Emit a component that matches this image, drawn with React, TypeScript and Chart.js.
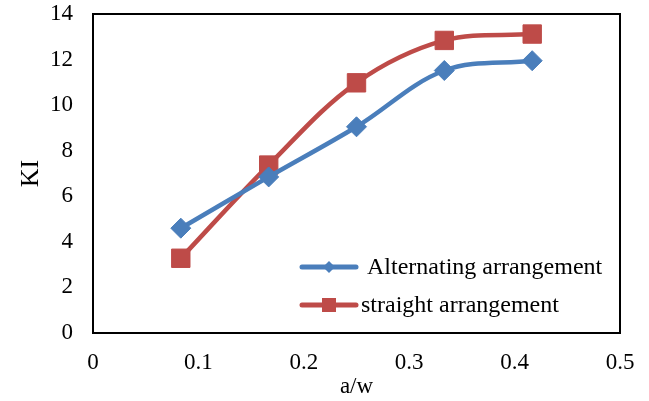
import React, { useEffect, useRef } from "react";
import { Chart, registerables } from "chart.js";

Chart.register(...registerables);

const xValues = [0.0833, 0.1667, 0.25, 0.3333, 0.4167];
const alternating = [4.6, 6.85, 9.05, 11.52, 11.95];
const straight = [3.28, 7.37, 10.98, 12.84, 13.12];
const seriesNames = ["Alternating arrangement", "straight arrangement"];
const BLUE = "#4A7EBB";
const RED = "#BE4B48";
const FONT = "'Liberation Serif', 'Times New Roman', serif";

const frameAndLegend = {
  id: "frameAndLegend",
  afterDraw(chart: any) {
    const { ctx, chartArea } = chart;
    ctx.save();
    ctx.strokeStyle = "#000";
    ctx.lineWidth = 2;
    ctx.strokeRect(chartArea.left, chartArea.top, chartArea.right - chartArea.left, chartArea.bottom - chartArea.top);
    const items = [
      { name: seriesNames[0], color: BLUE, y: 267, textX: 367, shape: "diamond" },
      { name: seriesNames[1], color: RED, y: 305, textX: 361, shape: "square" },
    ];
    ctx.font = `24px ${FONT}`;
    ctx.textBaseline = "middle";
    ctx.textAlign = "left";
    for (const it of items) {
      ctx.strokeStyle = it.color;
      ctx.lineWidth = 5;
      ctx.lineCap = "round";
      ctx.beginPath();
      ctx.moveTo(302, it.y);
      ctx.lineTo(356, it.y);
      ctx.stroke();
      ctx.fillStyle = it.color;
      if (it.shape === "diamond") {
        ctx.beginPath();
        ctx.moveTo(329, it.y - 6);
        ctx.lineTo(335, it.y);
        ctx.lineTo(329, it.y + 6);
        ctx.lineTo(323, it.y);
        ctx.closePath();
        ctx.fill();
      } else {
        ctx.fillRect(322, it.y - 7, 14, 14);
      }
      ctx.fillStyle = "#000";
      ctx.fillText(it.name, it.textX, it.y + 1);
    }
    ctx.restore();
  },
};

export default function App() {
  const ref = useRef<HTMLCanvasElement | null>(null);
  useEffect(() => {
    document.body.style.margin = "0";
    const canvas = ref.current!;
    const chart = new Chart(canvas, {
      type: "scatter",
      data: {
        datasets: [
          {
            label: seriesNames[0],
            data: xValues.map((x, i) => ({ x, y: alternating[i] })),
            showLine: true,
            borderColor: BLUE,
            backgroundColor: BLUE,
            borderWidth: 4.5,
            tension: 0.35,
            pointStyle: "rectRot",
            pointRadius: 10,
            pointBorderWidth: 1,
            pointBackgroundColor: BLUE,
            pointBorderColor: BLUE,
          },
          {
            label: seriesNames[1],
            data: xValues.map((x, i) => ({ x, y: straight[i] })),
            showLine: true,
            borderColor: RED,
            backgroundColor: RED,
            borderWidth: 4.5,
            tension: 0.35,
            pointStyle: "rect",
            pointRadius: 13,
            pointBorderWidth: 1,
            pointBackgroundColor: RED,
            pointBorderColor: RED,
          },
        ],
      },
      options: {
        animation: false,
        responsive: false,
        devicePixelRatio: 1,
        layout: { padding: { top: 13, right: 29, left: 0, bottom: 0 } },
        plugins: { legend: { display: false }, tooltip: { enabled: false } },
        scales: {
          x: {
            type: "linear",
            min: 0,
            max: 0.5,
            ticks: { stepSize: 0.1, color: "#000", font: { family: FONT, size: 23 }, padding: 16 },
            grid: { display: false, drawTicks: false },
            border: { display: true, color: "#000", width: 2 },
            title: { display: true, text: "a/w", color: "#000", font: { family: FONT, size: 23 }, padding: { top: 0, bottom: 0 } },
            afterFit: (s: any) => { s.height = 68; s.paddingLeft = 0; s.paddingRight = 0; },
          },
          y: {
            type: "linear",
            min: 0,
            max: 14,
            ticks: { stepSize: 2, color: "#000", font: { family: FONT, size: 23 }, padding: 20 },
            grid: { display: false, drawTicks: false },
            border: { display: true, color: "#000", width: 2 },
            title: { display: true, text: "KI", color: "#000", font: { family: FONT, size: 26 }, padding: { top: 16, bottom: 0 } },
            afterFit: (s: any) => { s.width = 93; s.paddingTop = 0; s.paddingBottom = 0; },
          },
        },
      },
      plugins: [frameAndLegend],
    });
    return () => chart.destroy();
  }, []);
  return (
    <div style={{ position: "absolute", left: 0, top: 0, width: 649, height: 401 }}>
      <canvas ref={ref} width={649} height={401} style={{ width: 649, height: 401 }} />
    </div>
  );
}
